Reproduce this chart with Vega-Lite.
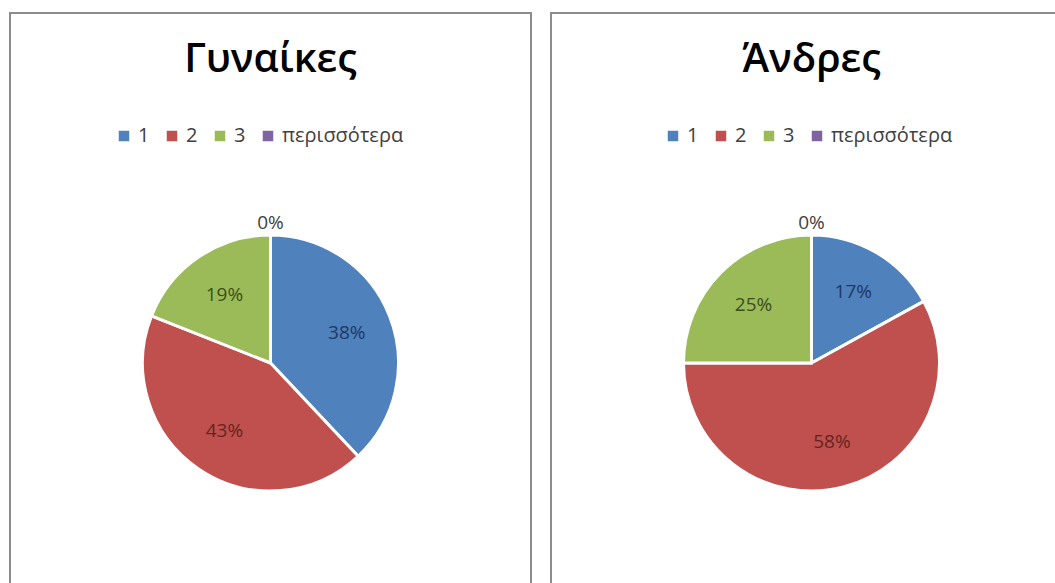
{
  "$schema": "https://vega.github.io/schema/vega-lite/v6.json",
  "padding": {"left": 9, "top": 12, "right": 0, "bottom": 0},
  "background": "white",
  "spacing": 18,
  "config": {
    "view": {"stroke": null},
    "font": "Open Sans",
    "title": {"font": "Open Sans", "fontSize": 40, "fontWeight": 600, "color": "#000000", "anchor": "middle", "baseline": "alphabetic", "offset": -68}
  },
  "datasets": {
    "pies": [
      {"panel": "Γυναίκες", "cat": "1", "pct": 38, "label": "38%"},
      {"panel": "Γυναίκες", "cat": "2", "pct": 43, "label": "43%"},
      {"panel": "Γυναίκες", "cat": "3", "pct": 19, "label": "19%"},
      {"panel": "Γυναίκες", "cat": "περισσότερα", "pct": 0, "label": "0%"},
      {"panel": "Άνδρες", "cat": "1", "pct": 17, "label": "17%"},
      {"panel": "Άνδρες", "cat": "2", "pct": 58, "label": "58%"},
      {"panel": "Άνδρες", "cat": "3", "pct": 25, "label": "25%"},
      {"panel": "Άνδρες", "cat": "περισσότερα", "pct": 0, "label": "0%"}
    ],
    "frame": [{"frame": "border"}]
  },
  "resolve": {"scale": {"color": "independent", "fill": "independent", "theta": "independent"}, "legend": {"color": "independent"}},
  "hconcat": [
    {
      "title": {"text": "Γυναίκες"},
      "width": 521,
      "height": 700,
      "data": {"name": "pies"},
      "transform": [{"filter": "datum.panel == 'Γυναίκες'"}],
      "layer": [
        {
          "data": {"name": "frame"},
          "mark": {"type": "rect", "fill": "white", "stroke": "#8c8c8c", "strokeWidth": 2},
          "encoding": {"x": {"value": 0}, "x2": {"value": "width"}, "y": {"value": 0}, "y2": {"value": "height"}}
        },
        {
          "mark": {"type": "arc", "outerRadius": 128, "stroke": "white", "strokeWidth": 3},
          "encoding": {
            "theta": {"field": "pct", "type": "quantitative", "stack": true, "scale": {"domain": [0, 100]}},
            "order": {"field": "cat"},
            "color": {
              "field": "cat", "type": "nominal",
              "scale": {"domain": ["1", "2", "3", "περισσότερα"], "range": ["#4F81BD", "#C0504D", "#9BBB59", "#8064A2"]},
              "legend": {"orient": "none", "direction": "horizontal", "legendX": 104, "legendY": 113, "title": null, "symbolType": "square", "symbolSize": 110, "symbolStrokeWidth": 0, "labelFontSize": 20, "labelFont": "Open Sans", "labelColor": "#404040", "columnPadding": 12, "labelOffset": 4}
            }
          }
        },
        {
          "transform": [{"filter": "datum.pct > 0"}],
          "mark": {"type": "text", "radius": 82, "fontSize": 19, "font": "Open Sans"},
          "encoding": {
            "theta": {"field": "pct", "type": "quantitative", "stack": true},
            "order": {"field": "cat"},
            "text": {"field": "label"},
            "fill": {"field": "cat", "type": "nominal", "legend": null, "scale": {"domain": ["1", "2", "3", "περισσότερα"], "range": ["#1F3864", "#632523", "#3B4E1A", "#595959"]}}
          }
        },
        {
          "transform": [{"filter": "datum.pct == 0"}],
          "mark": {"type": "text", "radius": 140, "fontSize": 19, "font": "Open Sans", "fill": "#404040"},
          "encoding": {
            "theta": {"field": "pct", "type": "quantitative", "stack": true},
            "text": {"field": "label"}
          }
        }
      ]
    },
    {
      "title": {"text": "Άνδρες"},
      "width": 521,
      "height": 700,
      "data": {"name": "pies"},
      "transform": [{"filter": "datum.panel == 'Άνδρες'"}],
      "layer": [
        {
          "data": {"name": "frame"},
          "mark": {"type": "rect", "fill": "white", "stroke": "#8c8c8c", "strokeWidth": 2},
          "encoding": {"x": {"value": 0}, "x2": {"value": "width"}, "y": {"value": 0}, "y2": {"value": "height"}}
        },
        {
          "mark": {"type": "arc", "outerRadius": 128, "stroke": "white", "strokeWidth": 3},
          "encoding": {
            "theta": {"field": "pct", "type": "quantitative", "stack": true, "scale": {"domain": [0, 100]}},
            "order": {"field": "cat"},
            "color": {
              "field": "cat", "type": "nominal",
              "scale": {"domain": ["1", "2", "3", "περισσότερα"], "range": ["#4F81BD", "#C0504D", "#9BBB59", "#8064A2"]},
              "legend": {"orient": "none", "direction": "horizontal", "legendX": 112, "legendY": 113, "title": null, "symbolType": "square", "symbolSize": 110, "symbolStrokeWidth": 0, "labelFontSize": 20, "labelFont": "Open Sans", "labelColor": "#404040", "columnPadding": 12, "labelOffset": 4}
            }
          }
        },
        {
          "transform": [{"filter": "datum.pct > 0"}],
          "mark": {"type": "text", "radius": 82, "fontSize": 19, "font": "Open Sans"},
          "encoding": {
            "theta": {"field": "pct", "type": "quantitative", "stack": true},
            "order": {"field": "cat"},
            "text": {"field": "label"},
            "fill": {"field": "cat", "type": "nominal", "legend": null, "scale": {"domain": ["1", "2", "3", "περισσότερα"], "range": ["#1F3864", "#632523", "#3B4E1A", "#595959"]}}
          }
        },
        {
          "transform": [{"filter": "datum.pct == 0"}],
          "mark": {"type": "text", "radius": 140, "fontSize": 19, "font": "Open Sans", "fill": "#404040"},
          "encoding": {
            "theta": {"field": "pct", "type": "quantitative", "stack": true},
            "text": {"field": "label"}
          }
        }
      ]
    }
  ]
}
